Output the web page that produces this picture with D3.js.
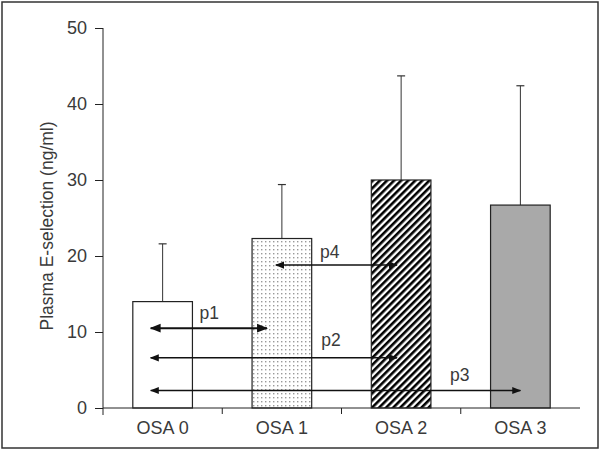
<!DOCTYPE html>
<html>
<head>
<meta charset="utf-8">
<script src="https://cdn.jsdelivr.net/npm/d3@7"></script>
<style>
  html, body { margin: 0; padding: 0; background: #fff; }
  svg { display: block; }
  text { font-family: "Liberation Sans", Arial, sans-serif; fill: #3a3a3a; }
</style>
</head>
<body>
<svg id="chart" width="600" height="450"></svg>
<script>
// ---- data ----
const categories = ["OSA 0", "OSA 1", "OSA 2", "OSA 3"];
const means = [14.0, 22.3, 30.0, 26.7];
const upperErr = [21.6, 29.4, 43.7, 42.4];
const yTicks = [0, 10, 20, 30, 40, 50];
const yTitle = "Plasma E-selection (ng/ml)";

// comparison arrows: label, from category (+ offset in bands), to category (+offset), value level
const compLabels = ["p1", "p2", "p3", "p4"];
const compFrom = [0, 0, 0, 1];
const compFromOff = [-0.1, -0.1, -0.1, -0.05];
const compTo = [1, 2, 3, 2];
const compToOff = [-0.125, -0.035, 0.0, -0.035];
const compLevel = [10.5, 6.6, 2.3, 18.8];
const compLabelCat = [0, 1, 2, 1];
const compLabelOff = [0.31, 0.33, 0.41, 0.32];
const compLabelDy = [1.2, 1.6, 1.3, 0.9];
const compStroke = [2, 1.5, 1.5, 1.5];

(function () {
// ---- layout ----
const svg = d3.select("#chart");
const mLeft = 103, mRight = 580, mTop = 28, mBottom = 408;

const x = d3.scaleBand().domain(categories).range([mLeft, mRight]).padding(0);
const y = d3.scaleLinear().domain([0, 50]).range([mBottom, mTop]);
const bw = x.bandwidth();
const cx = i => x(categories[i]) + bw / 2;

// outer frame
svg.append("rect").attr("x", 2).attr("y", 2).attr("width", 596).attr("height", 446)
  .attr("fill", "none").attr("stroke", "#333").attr("stroke-width", 1.5);

// patterns
const defs = svg.append("defs");
const dots = defs.append("pattern").attr("id", "dots").attr("patternUnits", "userSpaceOnUse")
  .attr("width", 4).attr("height", 4);
dots.append("rect").attr("width", 4).attr("height", 4).attr("fill", "#fff");
dots.append("rect").attr("x", 1).attr("y", 1).attr("width", 1.4).attr("height", 1.4).attr("fill", "#999");

const hatch = defs.append("pattern").attr("id", "hatch").attr("patternUnits", "userSpaceOnUse")
  .attr("width", 5).attr("height", 5).attr("patternTransform", "rotate(45)");
hatch.append("rect").attr("width", 5).attr("height", 5).attr("fill", "#fff");
hatch.append("rect").attr("x", 0).attr("y", 0).attr("width", 2.6).attr("height", 5).attr("fill", "#000");

const fills = ["#fff", "url(#dots)", "url(#hatch)", "#a9a9a9"];

// markers
function marker(id, size) {
  const m = defs.append("marker").attr("id", id).attr("viewBox", "0 0 10 10")
    .attr("refX", 9).attr("refY", 5).attr("markerUnits", "userSpaceOnUse")
    .attr("markerWidth", size).attr("markerHeight", size).attr("orient", "auto-start-reverse");
  m.append("path").attr("d", "M0,1 L10,5 L0,9 Z").attr("fill", "#111");
}
marker("arr", 9);
marker("arrBig", 11);

// error bars
const g = svg.append("g");
categories.forEach((c, i) => {
  g.append("line").attr("x1", cx(i)).attr("x2", cx(i))
    .attr("y1", y(means[i])).attr("y2", y(upperErr[i]))
    .attr("stroke", "#333").attr("stroke-width", 1);
  g.append("line").attr("x1", cx(i) - 4).attr("x2", cx(i) + 4)
    .attr("y1", y(upperErr[i])).attr("y2", y(upperErr[i]))
    .attr("stroke", "#333").attr("stroke-width", 1.2);
});

// bars
g.selectAll("rect.bar").data(means).join("rect").attr("class", "bar")
  .attr("x", (d, i) => x(categories[i]) + bw / 4)
  .attr("width", bw / 2)
  .attr("y", d => y(d))
  .attr("height", d => y(0) - y(d))
  .attr("fill", (d, i) => fills[i])
  .attr("stroke", "#222").attr("stroke-width", 1.2);

// comparison arrows
compLabels.forEach((lab, k) => {
  const x1 = cx(compFrom[k]) + compFromOff[k] * bw;
  const x2 = cx(compTo[k]) + compToOff[k] * bw;
  const yy = y(compLevel[k]);
  const mk = compStroke[k] > 1.7 ? "arrBig" : "arr";
  g.append("line").attr("x1", x1).attr("x2", x2).attr("y1", yy).attr("y2", yy)
    .attr("stroke", "#111").attr("stroke-width", compStroke[k])
    .attr("marker-start", `url(#${mk})`).attr("marker-end", `url(#${mk})`);
  g.append("text").attr("x", cx(compLabelCat[k]) + compLabelOff[k] * bw)
    .attr("y", y(compLevel[k] + compLabelDy[k]))
    .attr("font-size", 17.5).text(lab);
});

// y axis
const yAxis = svg.append("g").attr("transform", `translate(${mLeft},0)`)
  .call(d3.axisLeft(y).tickValues(yTicks).tickSize(8).tickPadding(8).tickFormat(d3.format("d")));
yAxis.attr("font-size", null).attr("font-family", null);
yAxis.select(".domain").attr("stroke", "#222").attr("d", `M0,${mTop}V${mBottom + 7}`);
yAxis.selectAll(".tick line").attr("stroke", "#222");
yAxis.selectAll(".tick text").attr("fill", "#3a3a3a")
  .style("font-size", "18px").style("font-family", "'Liberation Sans', Arial, sans-serif");

// x axis
const xAxis = svg.append("g").attr("transform", `translate(0,${mBottom})`)
  .call(d3.axisBottom(x).tickSize(0).tickPadding(13));
xAxis.attr("font-size", null).attr("font-family", null);
xAxis.select(".domain").attr("stroke", "#222").attr("d", `M${mLeft},0H${mRight}`);
xAxis.selectAll(".tick text").attr("fill", "#3a3a3a")
  .style("font-size", "18px").style("font-family", "'Liberation Sans', Arial, sans-serif");
// boundary ticks between categories
xAxis.selectAll("line.sep").data(categories.slice(1)).join("line").attr("class", "sep")
  .attr("x1", d => x(d)).attr("x2", d => x(d)).attr("y1", 0).attr("y2", 6)
  .attr("stroke", "#222");

// y title
svg.append("text").attr("transform", `translate(53,${(mTop + mBottom) / 2 + 8}) rotate(-90)`)
  .attr("text-anchor", "middle").style("font-size", "17.5px").text(yTitle);
})();
</script>
</body>
</html>
